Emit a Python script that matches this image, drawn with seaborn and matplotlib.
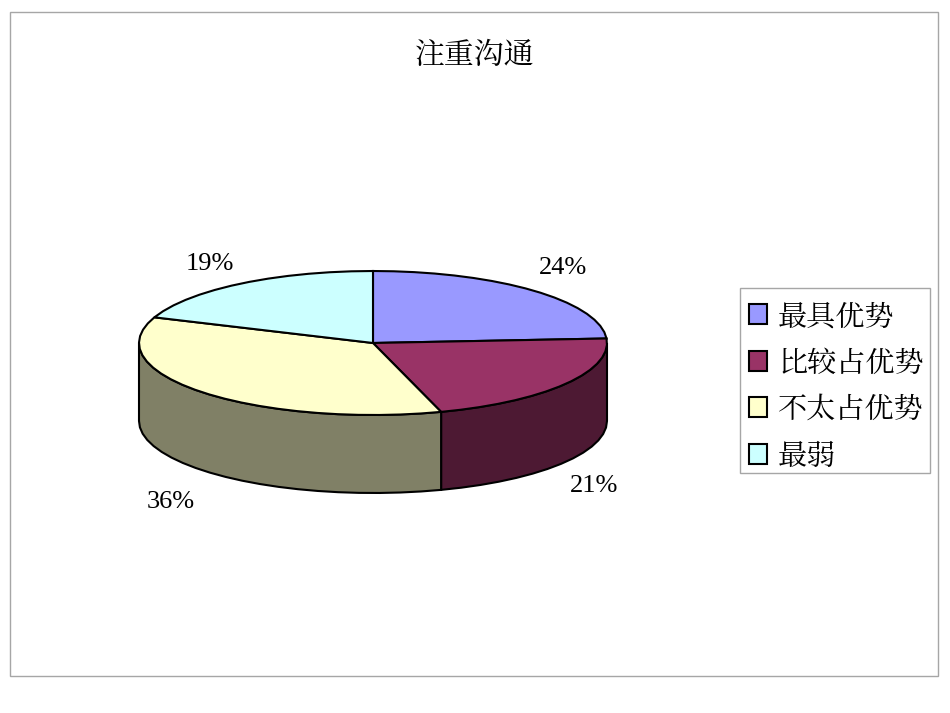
"""
3D-style pie chart: 注重沟通
"""

import numpy as np
import matplotlib.pyplot as plt
from matplotlib.patches import Polygon, Rectangle
import seaborn as sns


# ── Data ──────────────────────────────────────────────────────────────────────

title = "注重沟通"
categories = ["最具优势", "比较占优势", "不太占优势", "最弱"]
shares = [24.0, 21.3, 35.5, 19.2]
share_labels = ["24%", "21%", "36%", "19%"]
top_colors = ["#9999FF", "#993366", "#FFFFCC", "#CCFFFF"]
side_colors = ["#4D4D80", "#4D1933", "#808066", "#668080"]
label_pos = [(563, 268), (594, 486), (171, 502), (210, 264)]

# ── Layout (pixels of the 950x713 canvas) ─────────────────────────────────────

CX, CY = 373, 343
RX, RY = 234, 72
DEPTH = 78

sns.set_theme(style="white")
plt.rcParams["font.family"] = ["Noto Sans CJK SC", "DejaVu Sans"]
CJK = ["Noto Serif CJK SC", "Noto Sans CJK SC", "DejaVu Sans"]


def rim(start, end, step=5.0):
    """Points on the top ellipse, angles in degrees clockwise from 12 o'clock."""
    n = max(int((end - start) / step), 2) + 1
    t = np.radians(np.linspace(start, end, n))
    return np.column_stack([CX + RX * np.sin(t), CY - RY * np.cos(t)])


fig = plt.figure(figsize=(9.5, 7.13), dpi=100)
ax = fig.add_axes([0, 0, 1, 1])
ax.set_xlim(0, 950)
ax.set_ylim(713, 0)
ax.axis("off")

ax.add_patch(Rectangle((10, 12), 928, 664, fill=False, ec="#A6A6A6", lw=1))

edges = np.cumsum([0] + shares) * 3.6

# side walls: only the front half of the ellipse (90..270 deg) is visible
for i in range(len(shares)):
    lo, hi = max(edges[i], 90), min(edges[i + 1], 270)
    if lo >= hi:
        continue
    arc = rim(lo, hi)
    wall = np.vstack([arc, (arc + [0, DEPTH])[::-1]])
    ax.add_patch(Polygon(wall, closed=True, fc=side_colors[i], ec="black", lw=1.5))

# top faces
for i in range(len(shares)):
    pts = np.vstack([[CX, CY], rim(edges[i], edges[i + 1])])
    ax.add_patch(Polygon(pts, closed=True, fc=top_colors[i], ec="black", lw=1.5))

# percentage labels
for label, (x, y) in zip(share_labels, label_pos):
    ax.text(x, y, label, ha="center", va="center", fontsize=19,
            family="Liberation Serif", color="black")

ax.text(475, 56, title, ha="center", va="center", fontsize=21.5, color="black",
        family=CJK)

# legend box
ax.add_patch(Rectangle((740, 288), 190, 185, fc="white", ec="#A6A6A6", lw=1))
for i, name in enumerate(categories):
    y = 314 + i * 46.5
    ax.add_patch(Rectangle((749, y - 10), 18, 20, fc=top_colors[i], ec="black", lw=1.5))
    ax.text(778, y + 3, name, ha="left", va="center", fontsize=21, color="black",
            family=CJK)

fig.savefig("out.png", dpi=100)
